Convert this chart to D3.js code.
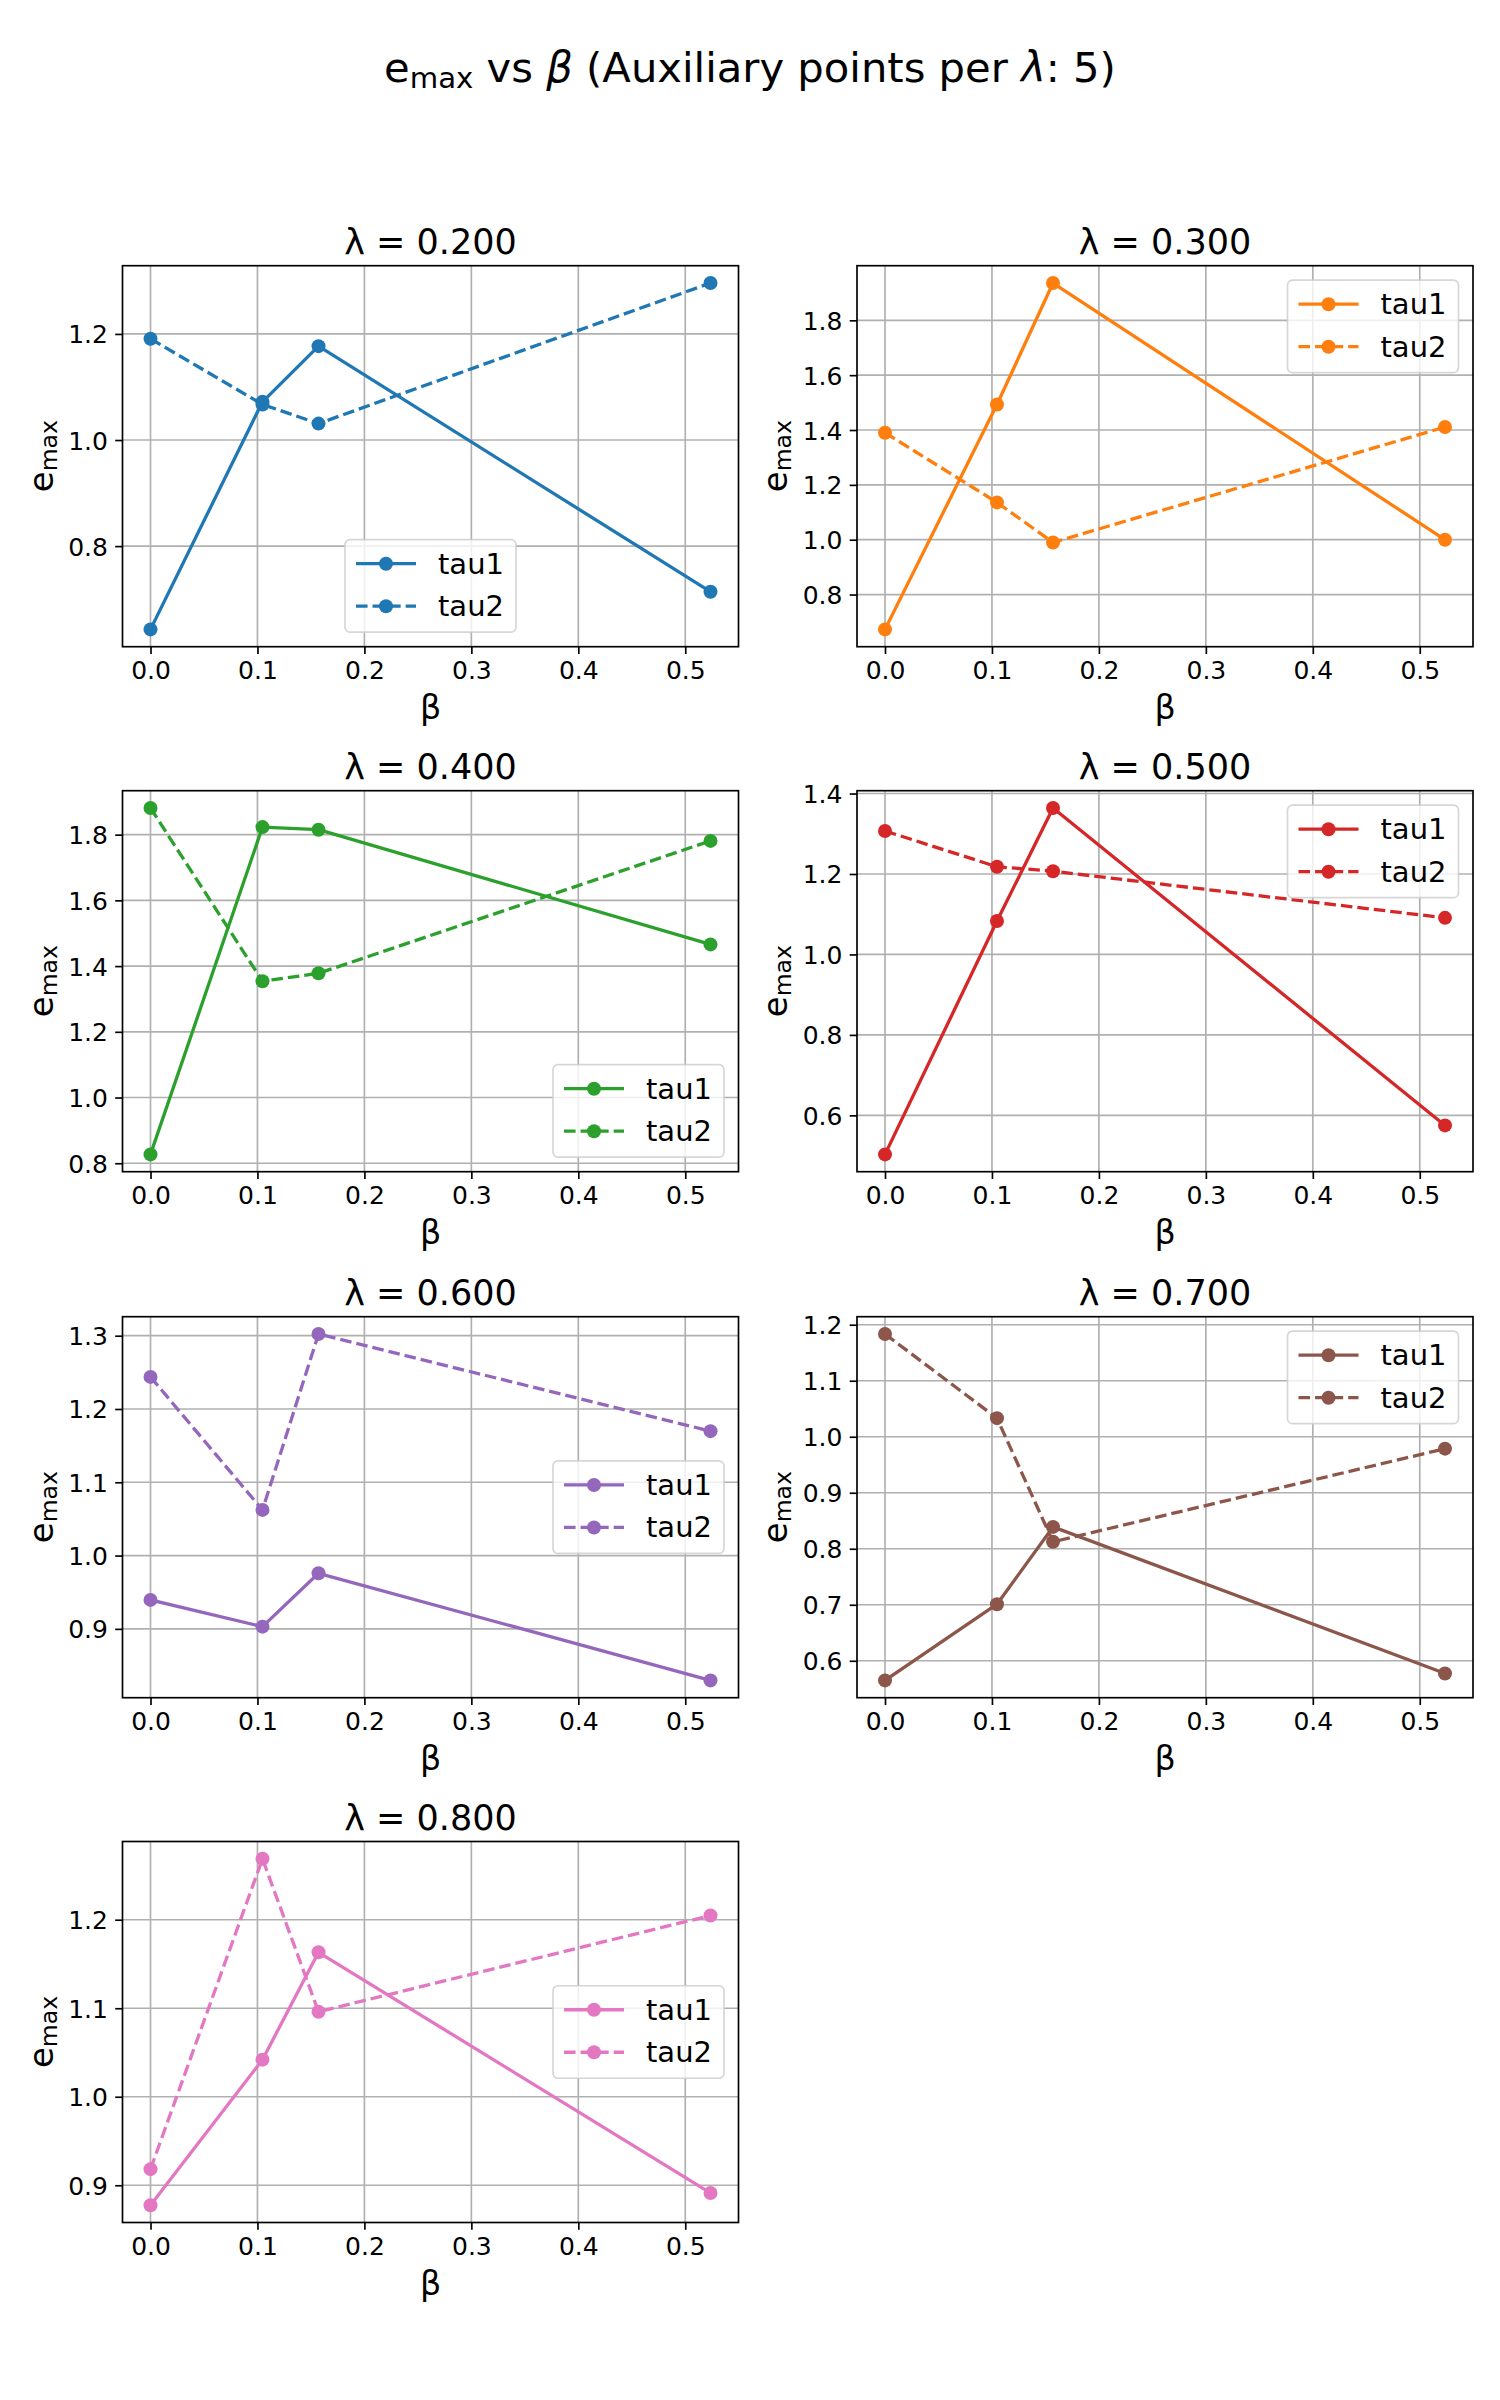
<!DOCTYPE html>
<html><head><meta charset="utf-8">
<script src="https://cdn.jsdelivr.net/npm/d3@7"></script>
<style>body{margin:0;background:#fff}</style>
</head><body><svg id="c" width="1500" height="2400" xmlns="http://www.w3.org/2000/svg"></svg>
<script>
// ---------- data ----------
const betas = [0, 0.1047, 0.1571, 0.5236];
const lambdas = [0.2, 0.3, 0.4, 0.5, 0.6, 0.7, 0.8];
const seriesNames = ["tau1", "tau2"];
const colors = ["#1f77b4", "#ff7f0e", "#2ca02c", "#d62728", "#9467bd", "#8c564b", "#e377c2"];

const tau1_020 = [0.643, 1.072, 1.177, 0.714];
const tau2_020 = [1.191, 1.067, 1.031, 1.296];
const tau1_030 = [0.673, 1.493, 1.936, 1.000];
const tau2_030 = [1.390, 1.136, 0.990, 1.411];
const tau1_040 = [0.827, 1.823, 1.815, 1.466];
const tau2_040 = [1.881, 1.354, 1.378, 1.781];
const tau1_050 = [0.503, 1.083, 1.364, 0.575];
const tau2_050 = [1.307, 1.218, 1.207, 1.091];
const tau1_060 = [0.9395, 0.903, 0.9758, 0.8297];
const tau2_060 = [1.2438, 1.0623, 1.3023, 1.1698];
const tau1_070 = [0.565, 0.701, 0.839, 0.5774];
const tau2_070 = [1.1834, 1.0332, 0.8124, 0.9787];
const tau1_080 = [0.8775, 1.0419, 1.1632, 0.8913];
const tau2_080 = [0.9182, 1.2688, 1.096, 1.2047];

const xTicks = [0.0, 0.1, 0.2, 0.3, 0.4, 0.5];
const yTicks_020 = [0.8, 1.0, 1.2];
const yTicks_030 = [0.8, 1.0, 1.2, 1.4, 1.6, 1.8];
const yTicks_040 = [0.8, 1.0, 1.2, 1.4, 1.6, 1.8];
const yTicks_050 = [0.6, 0.8, 1.0, 1.2, 1.4];
const yTicks_060 = [0.9, 1.0, 1.1, 1.2, 1.3];
const yTicks_070 = [0.6, 0.7, 0.8, 0.9, 1.0, 1.1, 1.2];
const yTicks_080 = [0.9, 1.0, 1.1, 1.2];

const legendLocs = ["lower center", "upper right", "lower right", "upper right", "center right", "upper right", "center right"];

const tau1All = [tau1_020, tau1_030, tau1_040, tau1_050, tau1_060, tau1_070, tau1_080];
const tau2All = [tau2_020, tau2_030, tau2_040, tau2_050, tau2_060, tau2_070, tau2_080];
const yTicksAll = [yTicks_020, yTicks_030, yTicks_040, yTicks_050, yTicks_060, yTicks_070, yTicks_080];

// ---------- layout ----------
const FONT = "DejaVu Sans, Verdana, sans-serif";
const colX = [122.5, 857];
const rowY = [265.7, 790.7, 1316.7, 1841.5];
const W = 616, H = 381;
const LW = 3.3, MR = 7, THIN = 1.67;

const svg = d3.select("#c");
svg.append("rect").attr("width", 1500).attr("height", 2400).attr("fill", "#fff");

// suptitle
const st = svg.append("text").attr("x", 750).attr("y", 82).attr("text-anchor", "middle")
  .attr("font-family", FONT).attr("font-size", 41.7).attr("fill", "#000");
st.append("tspan").text("e");
st.append("tspan").attr("font-size", 29.2).attr("dy", 5.5).text("max");
st.append("tspan").attr("dy", -5.5).text(" vs ");
st.append("tspan").attr("font-style", "italic").text("β");
st.append("tspan").text(" (Auxiliary points per ");
st.append("tspan").attr("font-style", "italic").text("λ");
st.append("tspan").text(": 5)");

function pad(a, frac) {
  const lo = d3.min(a), hi = d3.max(a), r = hi - lo;
  return [lo - frac * r, hi + frac * r];
}

lambdas.forEach((lam, i) => {
  const x0 = colX[i % 2], y0 = rowY[Math.floor(i / 2)];
  const color = colors[i];
  const s1 = tau1All[i], s2 = tau2All[i];
  const g = svg.append("g").attr("transform", `translate(${x0},${y0})`);

  const x = d3.scaleLinear().domain(pad(betas, 0.05)).range([0, W]);
  const y = d3.scaleLinear().domain(pad(s1.concat(s2), 0.05)).range([H, 0]);
  const yTicks = yTicksAll[i];

  // grid
  g.append("g").selectAll("line").data(xTicks).join("line")
    .attr("x1", d => x(d)).attr("x2", d => x(d)).attr("y1", 0).attr("y2", H)
    .attr("stroke", "#b0b0b0").attr("stroke-width", THIN);
  g.append("g").selectAll("line").data(yTicks).join("line")
    .attr("y1", d => y(d)).attr("y2", d => y(d)).attr("x1", 0).attr("x2", W)
    .attr("stroke", "#b0b0b0").attr("stroke-width", THIN);

  // series
  const line = d3.line().x((d, k) => x(betas[k])).y(d => y(d));
  [s1, s2].forEach((s, k) => {
    g.append("path").datum(s).attr("d", line).attr("fill", "none")
      .attr("stroke", color).attr("stroke-width", LW)
      .attr("stroke-linejoin", "round").attr("stroke-linecap", k === 0 ? "square" : "butt")
      .attr("stroke-dasharray", k === 1 ? "11.56,5" : null);
    g.append("g").selectAll("circle").data(s).join("circle")
      .attr("cx", (d, j) => x(betas[j])).attr("cy", d => y(d)).attr("r", MR)
      .attr("fill", color);
  });

  // spines
  g.append("rect").attr("width", W).attr("height", H).attr("fill", "none")
    .attr("stroke", "#000").attr("stroke-width", THIN);

  // axes
  const fmt = d3.format(".1f");
  const ax = g.append("g").attr("transform", `translate(0,${H})`)
    .call(d3.axisBottom(x).tickValues(xTicks).tickFormat(fmt).tickSize(7.3).tickPadding(7.3));
  const ay = g.append("g")
    .call(d3.axisLeft(y).tickValues(yTicks).tickFormat(fmt).tickSize(7.3).tickPadding(7.3));
  [ax, ay].forEach(a => {
    a.select(".domain").remove();
    a.selectAll("line").attr("stroke", "#000").attr("stroke-width", THIN);
    a.selectAll("text").attr("font-family", FONT).attr("font-size", 25).attr("fill", "#000");
  });
  ay.selectAll("text").attr("dy", "0.36em");

  // title
  g.append("text").attr("x", W / 2).attr("y", -12).attr("text-anchor", "middle")
    .attr("font-family", FONT).attr("font-size", 35).attr("fill", "#000")
    .text("λ = " + d3.format(".3f")(lam));

  // xlabel
  g.append("text").attr("x", W / 2).attr("y", H + 72).attr("text-anchor", "middle")
    .attr("font-family", FONT).attr("font-size", 33.3).attr("fill", "#000").text("β");

  // ylabel
  const yl = g.append("text").attr("transform", `translate(-70,${H / 2}) rotate(-90)`)
    .attr("text-anchor", "middle").attr("font-family", FONT).attr("font-size", 34).attr("fill", "#000");
  yl.append("tspan").text("e");
  yl.append("tspan").attr("font-size", 23.5).attr("dy", 4).text("max");

  // legend
  const lw = 171, lh = 92.5, bp = 14.5;
  const loc = legendLocs[i];
  let L, T;
  if (loc === "upper right") { L = W - bp - lw; T = bp; }
  else if (loc === "lower center") { L = W / 2 - lw / 2; T = H - bp - lh; }
  else if (loc === "lower right") { L = W - bp - lw; T = H - bp - lh; }
  else { L = W - bp - lw; T = H / 2 - lh / 2; }
  const lg = g.append("g").attr("transform", `translate(${L},${T})`);
  lg.append("rect").attr("width", lw).attr("height", lh).attr("rx", 5).attr("ry", 5)
    .attr("fill", "#fff").attr("fill-opacity", 0.8)
    .attr("stroke", "#cccccc").attr("stroke-opacity", 0.8).attr("stroke-width", THIN);
  seriesNames.forEach((nm, k) => {
    const cy = 24 + k * 42.5;
    lg.append("line").attr("x1", 11).attr("x2", 71).attr("y1", cy).attr("y2", cy)
      .attr("stroke", color).attr("stroke-width", LW)
      .attr("stroke-dasharray", k === 1 ? "11.56,5" : null);
    lg.append("circle").attr("cx", 41).attr("cy", cy).attr("r", MR).attr("fill", color);
    lg.append("text").attr("x", 93).attr("y", cy + 10).attr("font-family", FONT)
      .attr("font-size", 29).attr("fill", "#000").text(nm);
  });
});
</script></body></html>
